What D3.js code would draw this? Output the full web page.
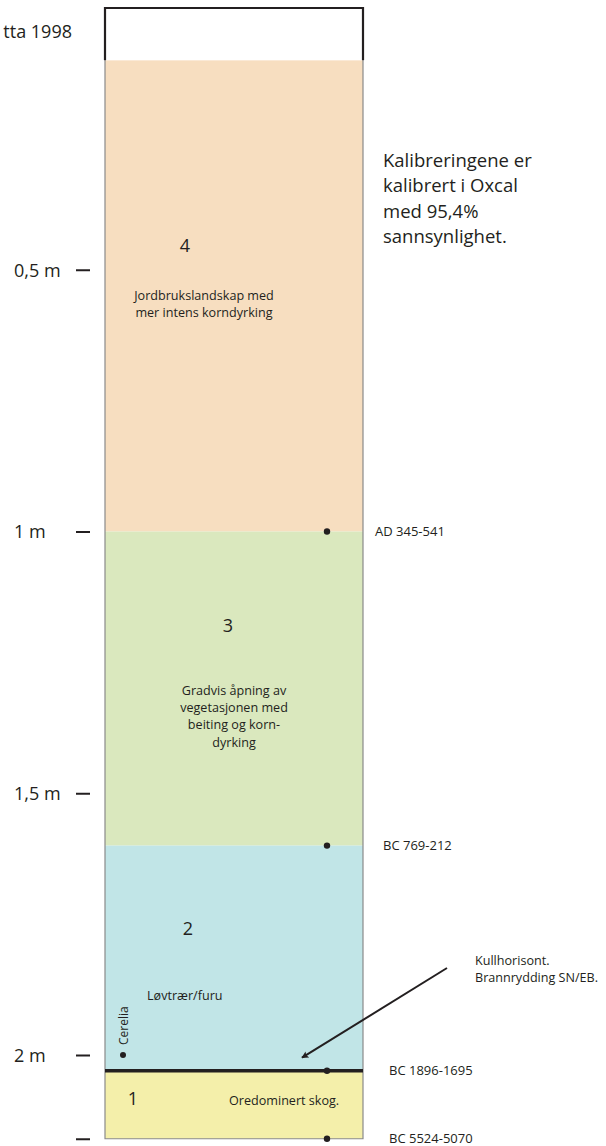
<!DOCTYPE html>
<html>
<head>
<meta charset="utf-8">
<script src="https://cdn.jsdelivr.net/npm/d3@7"></script>
<style>
  body { margin: 0; background: #fff; }
  svg text { font-family: "Open Sans", "Noto Sans", sans-serif; fill: #231f20; }
</style>
</head>
<body>
<div id="chart-area"></div>
<script>
// DATA
var layerIds = ["4", "3", "2", "1"];
var layerTops = [0.1, 1.0, 1.6, 2.03];      // m
var layerBottoms = [1.0, 1.6, 2.03, 2.16];  // m
var layerTexts = [
  ["Jordbrukslandskap med", "mer intens korndyrking"],
  ["Gradvis åpning av", "vegetasjonen med", "beiting og korn-", "dyrking"],
  ["Løvtrær/furu"],
  ["Oredominert skog."]
];
var dateDepths = [1.0, 1.6, 2.03, 2.16];
var dateLabels = ["AD 345-541", "BC 769-212", "BC 1896-1695", "BC 5524-5070"];
var depthTicks = [0.5, 1, 1.5, 2, 2.16];
var depthTickLabels = ["0,5 m", "1 m", "1,5 m", "2 m", ""];
var surfaceLabel = "tta 1998";
var noteLines = ["Kalibreringene er", "kalibrert i Oxcal", "med 95,4%", "sannsynlighet."];
var charcoalLines = ["Kullhorisont.", "Brannrydding SN/EB."];
var charcoalDepth = 2.03;
var cerealDepth = 2.0;

// layout
var width = 606, height = 1146;
var colLeft = 105, colRight = 363;
var layerColors = ["#f7dec0", "#dae8be", "#c1e5e7", "#f4efaa"];
var dateLabelX = [375, 383, 389, 389];
// number x, number y (px), text x, text first baseline, line step, anchor
var layerLayout = [
  { nx: 185, ny: 252, tx: 204, ty: 300, step: 17.2, anchor: "middle" },
  { nx: 228, ny: 632, tx: 234, ty: 695, step: 17.2, anchor: "middle" },
  { nx: 188, ny: 935, tx: 147, ty: 1000, step: 17.2, anchor: "start" },
  { nx: 133, ny: 1105, tx: 229, ty: 1105, step: 17.2, anchor: "start" }
];

var svg = d3.select("#chart-area")
  .append("svg")
  .attr("width", width)
  .attr("height", height);

// SCALES
var y = d3.scaleLinear().domain([0, 2]).range([8, 1055]);

// layers
svg.selectAll("rect.layer")
  .data(layerIds)
  .enter().append("rect")
  .attr("class", "layer")
  .attr("x", colLeft)
  .attr("width", colRight - colLeft)
  .attr("y", (d, i) => y(layerTops[i]))
  .attr("height", (d, i) => y(layerBottoms[i]) - y(layerTops[i]))
  .attr("fill", (d, i) => layerColors[i]);

// column outline below top box
svg.append("path")
  .attr("d", "M" + colLeft + "," + y(layerTops[0]) + "V" + y(2.16) + "H" + colRight + "V" + y(layerTops[0]))
  .attr("fill", "none")
  .attr("stroke", "#8a8a8a")
  .attr("stroke-width", 1.2);

// top white box (surface)
svg.append("path")
  .attr("d", "M" + colLeft + "," + y(layerTops[0]) + "V" + y(0) + "H" + colRight + "V" + y(layerTops[0]))
  .attr("fill", "none")
  .attr("stroke", "#231f20")
  .attr("stroke-width", 2.2);

svg.append("text")
  .attr("x", 72).attr("y", 38)
  .attr("text-anchor", "end")
  .attr("font-size", "18px")
  .text(surfaceLabel);

// charcoal horizon line
svg.append("line")
  .attr("x1", colLeft).attr("x2", colRight)
  .attr("y1", y(charcoalDepth)).attr("y2", y(charcoalDepth))
  .attr("stroke", "#231f20")
  .attr("stroke-width", 3.5);

// AXIS
var leftAxis = d3.axisLeft(y)
  .tickValues(depthTicks)
  .tickSize(14)
  .tickFormat((d, i) => depthTickLabels[i]);

var axisG = svg.append("g")
  .attr("transform", "translate(90,0)")
  .call(leftAxis);
axisG.select(".domain").remove();
axisG.selectAll(".tick line").attr("stroke", "#231f20").attr("stroke-width", 2);
axisG.selectAll(".tick text")
  .attr("text-anchor", "start")
  .attr("x", -76)
  .attr("dy", "0.35em")
  .attr("font-size", "18px")
  .attr("fill", "#231f20");

// layer numbers and descriptions
svg.selectAll("text.num")
  .data(layerIds)
  .enter().append("text")
  .attr("class", "num")
  .attr("x", (d, i) => layerLayout[i].nx)
  .attr("y", (d, i) => layerLayout[i].ny)
  .attr("text-anchor", "middle")
  .attr("font-size", "18px")
  .text(d => d);

layerTexts.forEach(function (lines, i) {
  var L = layerLayout[i];
  var t = svg.append("text")
    .attr("font-size", "12.6px")
    .attr("text-anchor", L.anchor);
  lines.forEach(function (line, j) {
    t.append("tspan")
      .attr("x", L.tx)
      .attr("y", L.ty + j * L.step)
      .text(line);
  });
});

// dating points
svg.selectAll("circle.date")
  .data(dateDepths)
  .enter().append("circle")
  .attr("class", "date")
  .attr("cx", 327)
  .attr("cy", d => y(d))
  .attr("r", 3.2)
  .attr("fill", "#231f20");

svg.selectAll("text.date")
  .data(dateLabels)
  .enter().append("text")
  .attr("class", "date")
  .attr("x", (d, i) => dateLabelX[i])
  .attr("y", (d, i) => y(dateDepths[i]) + 4.5)
  .attr("font-size", "13px")
  .text(d => d);

// cereal pollen marker
svg.append("circle")
  .attr("cx", 123).attr("cy", y(cerealDepth))
  .attr("r", 3).attr("fill", "#231f20");
svg.append("text")
  .attr("transform", "translate(128," + (y(cerealDepth) - 10) + ") rotate(-90)")
  .attr("font-size", "12px")
  .text("Cerelia");

// note text
var note = svg.append("text").attr("font-size", "18.5px");
noteLines.forEach(function (line, j) {
  note.append("tspan").attr("x", 383).attr("y", 167 + j * 25.4).text(line);
});

// charcoal annotation
svg.append("defs").append("marker")
  .attr("id", "arrow")
  .attr("viewBox", "0 0 10 10")
  .attr("refX", 9).attr("refY", 5)
  .attr("markerWidth", 7).attr("markerHeight", 7)
  .attr("markerUnits", "userSpaceOnUse")
  .attr("orient", "auto")
  .append("path")
  .attr("d", "M0,0L10,5L0,10L2,5Z")
  .attr("fill", "#231f20");

svg.append("line")
  .attr("x1", 447).attr("y1", 968)
  .attr("x2", 302).attr("y2", y(charcoalDepth) - 13)
  .attr("stroke", "#231f20")
  .attr("stroke-width", 2)
  .attr("marker-end", "url(#arrow)");

var ann = svg.append("text").attr("font-size", "12.6px");
charcoalLines.forEach(function (line, j) {
  ann.append("tspan").attr("x", 475).attr("y", 965 + j * 17.2).text(line);
});
</script>
</body>
</html>
